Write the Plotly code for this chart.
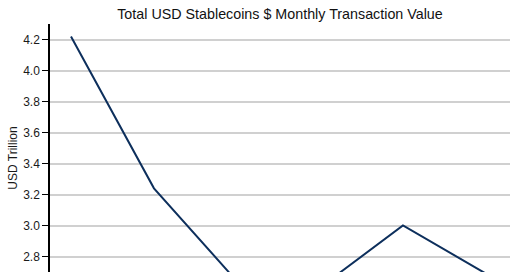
import plotly.graph_objects as go

months = ["Jan", "Feb", "Mar", "Apr", "May", "Jun"]
values = [4.22, 3.24, 2.64, 2.60, 3.00, 2.69]
y_ticks = [2.8, 3.0, 3.2, 3.4, 3.6, 3.8, 4.0, 4.2]
y_tick_text = ["2.8", "3.0", "3.2", "3.4", "3.6", "3.8", "4.0", "4.2"]

fig = go.Figure()
fig.add_trace(go.Scatter(
    x=list(range(len(months))), y=values, mode="lines",
    line=dict(color="#0d2f5c", width=2), hoverinfo="skip", showlegend=False,
))

fig.update_layout(
    template="none",
    width=520, height=300,
    margin=dict(l=50, r=10, t=24, b=8),
    paper_bgcolor="white", plot_bgcolor="white",
    font=dict(family="Liberation Sans, Arial, sans-serif", color="#1a1a1a", size=12),
    title=dict(text="Total USD Stablecoins $ Monthly Transaction Value",
               x=0.5, xref="paper", xanchor="center", y=0.953, yref="container",
               yanchor="middle", font=dict(size=14.3, color="#111111")),
)
fig.update_xaxes(
    range=[-0.253, 5.29], showticklabels=False, showgrid=False, zeroline=False,
    showline=False, ticks="", automargin=False,
    tickvals=list(range(len(months))), ticktext=months,
)
fig.update_yaxes(
    range=[2.571, 4.3], tickvals=y_ticks, ticktext=y_tick_text,
    showgrid=True, gridcolor="#d0d0d0", gridwidth=1.5, zeroline=False,
    showline=True, linecolor="#000000", linewidth=1.5,
    ticks="outside", ticklen=6, tickcolor="#000000", tickwidth=1,
    tickfont=dict(size=12, color="#1a1a1a"), automargin=False,
    title=dict(text="USD Trillion", font=dict(size=12, color="#1a1a1a"), standoff=3),
)

fig.write_html("out.html")
